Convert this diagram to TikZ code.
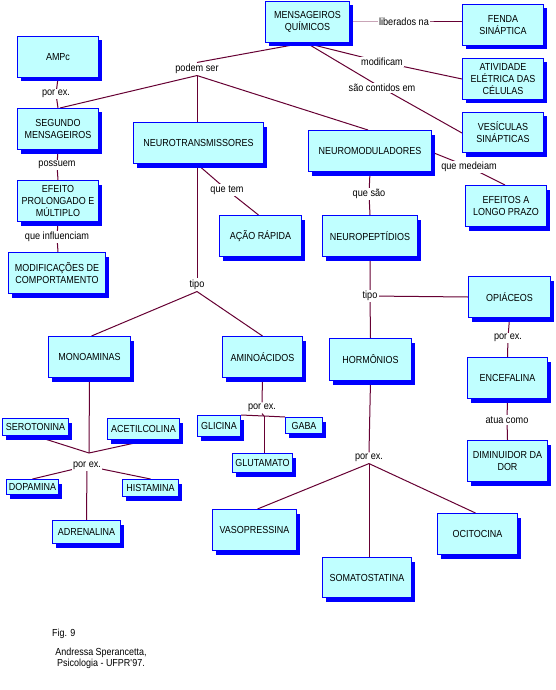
\documentclass[tikz,border=0pt]{standalone}
\usepackage{fontspec}
\setmainfont{Liberation Sans}[FakeStretch=0.88]
\usetikzlibrary{shadows,calc}
\pgfdeclarelayer{bg}
\pgfsetlayers{bg,main}
\definecolor{boxfill}{HTML}{C0FFFF}
\definecolor{linkc}{HTML}{660033}
\tikzset{
  concept/.style={draw=blue, line width=1pt, fill=boxfill, inner sep=0pt, align=center,
    font=\fontsize{10.2}{12}\selectfont,
    drop shadow={shadow xshift=3.5pt, shadow yshift=-4pt, fill=blue, opacity=1}},
  linkphrase/.style={fill=white, inner sep=1.5pt, font=\fontsize{10.4}{11}\selectfont},
  conn/.style={draw=linkc, line width=1pt},
  footnote/.style={font=\fontsize{10.2}{11}\selectfont, inner sep=0pt, align=center},
}
\begin{document}
\begin{tikzpicture}[x=1pt,y=-1pt]
\useasboundingbox (0,0) rectangle (555,690);
% concepts
\node[concept, minimum width=84pt, minimum height=41pt] (mq) at (307.5,22) {MENSAGEIROS\\QUÍMICOS};
\node[concept, minimum width=81pt, minimum height=41pt] (fenda) at (503,25) {FENDA\\SINÁPTICA};
\node[concept, minimum width=81pt, minimum height=41pt] (ativ) at (503,79) {ATIVIDADE\\ELÉTRICA DAS\\CÉLULAS};
\node[concept, minimum width=81pt, minimum height=40pt] (ves) at (503,132.5) {VESÍCULAS\\SINÁPTICAS};
\node[concept, minimum width=123pt, minimum height=41pt] (nm) at (370,151) {NEUROMODULADORES};
\node[concept, minimum width=81pt, minimum height=41pt] (ampc) at (58,57) {AMPc};
\node[concept, minimum width=81pt, minimum height=41pt] (seg) at (58,129) {SEGUNDO\\MENSAGEIROS};
\node[concept, minimum width=130pt, minimum height=41pt] (nt) at (198.5,143) {NEUROTRANSMISSORES};
\node[concept, minimum width=81pt, minimum height=41pt] (efeito) at (58,201) {EFEITO\\PROLONGADO E\\MÚLTIPLO};
\node[concept, minimum width=97pt, minimum height=41pt] (modif) at (57,273) {MODIFICAÇÕES DE\\COMPORTAMENTO};
\node[concept, minimum width=82pt, minimum height=41pt] (acao) at (260.5,236) {AÇÃO RÁPIDA};
\node[concept, minimum width=95pt, minimum height=41pt] (np) at (370,236) {NEUROPEPTÍDIOS};
\node[concept, minimum width=81pt, minimum height=41pt] (elp) at (506,206) {EFEITOS A\\LONGO PRAZO};
\node[concept, minimum width=82pt, minimum height=41pt] (opi) at (509.5,297) {OPIÁCEOS};
\node[concept, minimum width=82pt, minimum height=41pt] (mono) at (89.5,357) {MONOAMINAS};
\node[concept, minimum width=80pt, minimum height=41pt] (amino) at (262.5,357) {AMINOÁCIDOS};
\node[concept, minimum width=82pt, minimum height=42pt] (horm) at (370.5,359.5) {HORMÔNIOS};
\node[concept, minimum width=80pt, minimum height=41pt] (enc) at (507.5,378) {ENCEFALINA};
\node[concept, minimum width=80pt, minimum height=41pt] (dim) at (507.5,461) {DIMINUIDOR DA\\DOR};
\node[concept, minimum width=66pt, minimum height=17pt] (sero) at (35.5,427) {SEROTONINA};
\node[concept, minimum width=72pt, minimum height=21pt] (acet) at (143.5,429) {ACETILCOLINA};
\node[concept, minimum width=43pt, minimum height=21pt] (glic) at (219,426) {GLICINA};
\node[concept, minimum width=37pt, minimum height=16pt] (gaba) at (304,425.5) {GABA};
\node[concept, minimum width=60pt, minimum height=19pt] (glut) at (262.5,463) {GLUTAMATO};
\node[concept, minimum width=52pt, minimum height=15pt] (dopa) at (32.5,487) {DOPAMINA};
\node[concept, minimum width=56pt, minimum height=17pt] (hist) at (150.5,488) {HISTAMINA};
\node[concept, minimum width=68pt, minimum height=23pt] (adren) at (86.5,532) {ADRENALINA};
\node[concept, minimum width=84pt, minimum height=41pt] (vaso) at (254.5,530) {VASOPRESSINA};
\node[concept, minimum width=80pt, minimum height=41pt] (oci) at (477.5,534) {OCITOCINA};
\node[concept, minimum width=89pt, minimum height=40pt] (soma) at (367,577.5) {SOMATOSTATINA};
% linking phrases
\node[linkphrase] (lib) at (404,22) {liberados na};
\node[linkphrase] (modlab) at (382,62) {modificam};
\node[linkphrase] (sao) at (382,88) {são contidos em};
\node[linkphrase] (podem) at (197,69) {podem ser};
\node[linkphrase] (pe1) at (56,94) {por ex.};
\node[linkphrase] (poss) at (57,165) {possuem};
\node[linkphrase] (quetem) at (227,190) {que tem};
\node[linkphrase] (queinf) at (57,237) {que influenciam};
\node[linkphrase] (tipoa) at (197,285) {tipo};
\node[linkphrase] (medeiam) at (469,167) {que medeiam};
\node[linkphrase] (quesao) at (369,194) {que são};
\node[linkphrase] (tipob) at (370,296) {tipo};
\node[linkphrase] (peo) at (508,338) {por ex.};
\node[linkphrase] (atua) at (507,420) {atua como};
\node[linkphrase] (peh) at (369,458) {por ex.};
\node[linkphrase] (pea) at (262,408) {por ex.};
\node[linkphrase] (pem) at (87,466) {por ex.};
\coordinate (jm) at (89,453);
\coordinate (ja) at (264,416);
% footer
\node[footnote, anchor=west] (fig) at (52,634) {Fig. 9};
\node[footnote] (author) at (101,658.5) {Andressa Sperancetta,\\Psicologia - UFPR\textquotesingle97.};
% connectors
\begin{pgfonlayer}{bg}
\fill[white] (0,0) rectangle (555,690);
\draw[conn] (mq.east) -- (lib.center) -- (lib.center -| fenda.west);
\draw[conn] ($(mq.south)+(-2,0)$) -- (modlab.center) -- (ativ.west);
\draw[conn] ($(mq.south)+(-1,0)$) -- (sao.center) -- ($(ves.west)+(0,0.5)$);
\draw[conn] ($(mq.south)+(-4,0)$) -- (podem.north);
\draw[conn] (podem.south) -- ($(seg.north)+(2,0)$);
\draw[conn] (podem.south) -- (podem.south |- nt.north);
\draw[conn] (podem.south) -- ($(nm.north)+(-2,0)$);
\draw[conn] (ampc.south) -- (pe1.center) -- (seg.north);
\draw[conn] (seg.south) -- (poss.center) -- (efeito.north);
\draw[conn] (efeito.south) -- (queinf.center) -- (efeito.south |- modif.north);
\draw[conn] (tipoa.north |- nt.south) -- (quetem.center) -- ($(acao.north)+(-2,0)$);
\draw[conn] (tipoa.north |- nt.south) -- (tipoa.north);
\draw[conn] (tipoa.south) -- ($(mono.north)+(2,0)$);
\draw[conn] (tipoa.south) -- (amino.north);
\draw[conn] ($(nm.east)+(2,2)$) -- (medeiam.center) -- ($(elp.north)+(-1,0)$);
\draw[conn] (nm.south) -- (quesao.center) -- (np.north);
\draw[conn] (np.south) -- (tipob.center) -- (horm.north);
\draw[conn] (tipob.center) -- (opi.west);
\draw[conn] (opi.south) -- (peo.center) -- (enc.north);
\draw[conn] (enc.south) -- (atua.center) -- (dim.north);
\draw[conn] (horm.south) -- (peh.north);
\draw[conn] (peh.south) -- ($(vaso.north)+(3,0)$);
\draw[conn] (peh.south) -- (peh.south |- soma.north);
\draw[conn] (peh.south) -- ($(oci.north)+(-2,0)$);
\draw[conn] (amino.south) -- (pea.north);
\draw[conn] (pea.south) -- (ja);
\draw[conn] (ja) -- (glic.north east);
\draw[conn] (ja) -- (gaba.north west);
\draw[conn] (ja) -- (ja |- glut.north);
\draw[conn] (mono.south) -- (jm);
\draw[conn] (jm) -- (sero.south);
\draw[conn] (jm) -- ($(acet.south)+(5,0)$);
\draw[conn] (pem.center) -- (dopa.north);
\draw[conn] (pem.center) -- (hist.north);
\draw[conn] (pem.center) -- (adren.north);
\end{pgfonlayer}
\end{tikzpicture}
\end{document}
